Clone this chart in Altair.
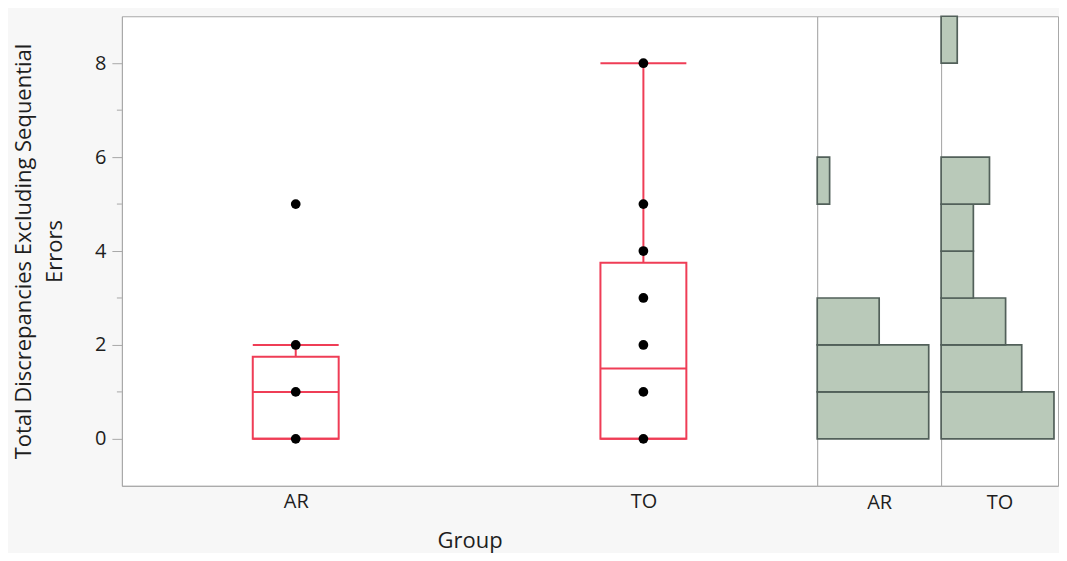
import altair as alt
import pandas as pd
import numpy as np

# ---- data ----
groups = ["AR", "TO"]
values = [0, 1, 2, 3, 4, 5, 6, 7, 8]
ar_counts = [9, 9, 5, 0, 0, 1, 0, 0, 0]
to_counts = [7, 5, 4, 2, 2, 3, 0, 0, 1]
major_ticks = [0, 2, 4, 6, 8]
minor_ticks = [1, 3, 5, 7]
y_title = ["Total Discrepancies Excluding Sequential", "Errors"]
x_title = "Group"

counts = {"AR": ar_counts, "TO": to_counts}

FONT = "Open Sans"
RED = "#ef3d56"
TXT = "#1e1e1e"
GRID = "#a8a8a8"
LFS = 20   # label font size
TFS = 22   # title font size

def jmp_quantile(xs, p):
    xs = sorted(xs)
    n = len(xs)
    pos = (n + 1) * p
    lo = int(np.floor(pos))
    frac = pos - lo
    lo = max(1, min(n, lo))
    hi = max(1, min(n, lo + 1))
    return xs[lo - 1] + frac * (xs[hi - 1] - xs[lo - 1])

pts_rows, box_rows, hist_rows = [], [], []
for g in groups:
    obs = []
    for v, c in zip(values, counts[g]):
        obs += [v] * c
        if c > 0:
            hist_rows.append({"Group": g, "lo": v, "hi": v + 1, "count": c, "zero": 0})
    for v in sorted(set(obs)):
        pts_rows.append({"Group": g, "value": v})
    q1 = jmp_quantile(obs, 0.25)
    q2 = jmp_quantile(obs, 0.5)
    q3 = jmp_quantile(obs, 0.75)
    iqr = q3 - q1
    whi = max(o for o in obs if o <= q3 + 1.5 * iqr)
    wlo = min(o for o in obs if o >= q1 - 1.5 * iqr)
    box_rows.append({"Group": g, "q1": q1, "q2": q2, "q3": q3, "whi": whi, "wlo": wlo})

pts = pd.DataFrame(pts_rows)
box = pd.DataFrame(box_rows)
hist = pd.DataFrame(hist_rows)
minor = pd.DataFrame({"v": minor_ticks})

H = 470
ydom = [-1, 9]
SW = 2

xenc = alt.X("Group:N", sort=groups,
             scale=alt.Scale(domain=groups, paddingInner=0, paddingOuter=0),
             axis=alt.Axis(title=x_title, labelAngle=0, tickBand="extent", tickSize=9,
                           tickOpacity={"condition": {"test": "datum.value === 'TO' && datum.index < 1", "value": 1}, "value": 0},
                           labelPadding=-3, titlePadding=19, domainColor=GRID, tickColor=GRID,
                           labelFontSize=LFS, titleFontSize=TFS, labelColor=TXT, titleColor=TXT,
                           titleFontWeight="normal", labelFont=FONT, titleFont=FONT))

yscale = alt.Scale(domain=ydom, nice=False, zero=False)
yaxis = alt.Axis(title=y_title, values=major_ticks, tickSize=10, labelPadding=6,
                 domainColor=GRID, tickColor=GRID, grid=False,
                 labelFontSize=LFS, titleFontSize=TFS, labelColor=TXT, titleColor=TXT,
                 titleFontWeight="normal", labelFont=FONT, titleFont=FONT,
                 titleLineHeight=31, titleBaseline="top", titleX=-108, titleAngle=270)

boxes = alt.Chart(box).mark_bar(size=86, fillOpacity=0, stroke=RED, strokeWidth=SW).encode(
    x=xenc, y=alt.Y("q1:Q", scale=yscale, axis=yaxis), y2="q3:Q")
med = alt.Chart(box).mark_tick(size=86, thickness=SW, color=RED, opacity=1).encode(
    x=alt.X("Group:N", sort=groups), y="q2:Q")
whisk_hi = alt.Chart(box).mark_rule(color=RED, strokeWidth=SW).encode(
    x=alt.X("Group:N", sort=groups), y="q3:Q", y2="whi:Q")
whisk_lo = alt.Chart(box).mark_rule(color=RED, strokeWidth=SW).encode(
    x=alt.X("Group:N", sort=groups), y="wlo:Q", y2="q1:Q")
cap_hi = alt.Chart(box).mark_tick(size=86, thickness=SW, color=RED, opacity=1).encode(
    x=alt.X("Group:N", sort=groups), y="whi:Q")
cap_lo = alt.Chart(box).mark_tick(size=86, thickness=SW, color=RED, opacity=1).encode(
    x=alt.X("Group:N", sort=groups), y="wlo:Q")
dots = alt.Chart(pts).mark_circle(size=95, color="black", opacity=1).encode(
    x=alt.X("Group:N", sort=groups), y="value:Q")
minor_rules = alt.Chart(minor).mark_rule(color=GRID, strokeWidth=1).encode(
    x=alt.value(-5), x2=alt.value(0), y="v:Q")

main = alt.layer(boxes, whisk_hi, whisk_lo, med, cap_hi, cap_lo, dots, minor_rules).properties(
    width=696, height=H)

def hist_panel(g, w, xmax):
    d = hist[hist["Group"] == g]
    return alt.Chart(d).mark_rect(fill="#b9c9b9", stroke="#52605a", strokeWidth=1.7).encode(
        x=alt.X("zero:Q", scale=alt.Scale(domain=[0, xmax], nice=False),
                axis=alt.Axis(title=g, labels=False, ticks=False, grid=False, domainColor=GRID,
                              titlePadding=7, titleFontSize=LFS, titleColor=TXT,
                              titleFontWeight="normal", titleFont=FONT)),
        x2="count:Q",
        y=alt.Y("lo:Q", scale=yscale, axis=None),
        y2="hi:Q",
    ).properties(width=w, height=H)

chart = alt.hconcat(main, hist_panel("AR", 124, 10), hist_panel("TO", 117, 7.25), spacing=0,
                    bounds="flush").resolve_scale(
    x="independent", y="shared"
).properties(
    padding={"left": 4, "top": 6, "right": 0, "bottom": 0},
    background="#f7f7f7",
).configure_view(fill="white", stroke=GRID, strokeWidth=1)

chart.save("out.html", embed_options={"renderer": "svg", "actions": False})
